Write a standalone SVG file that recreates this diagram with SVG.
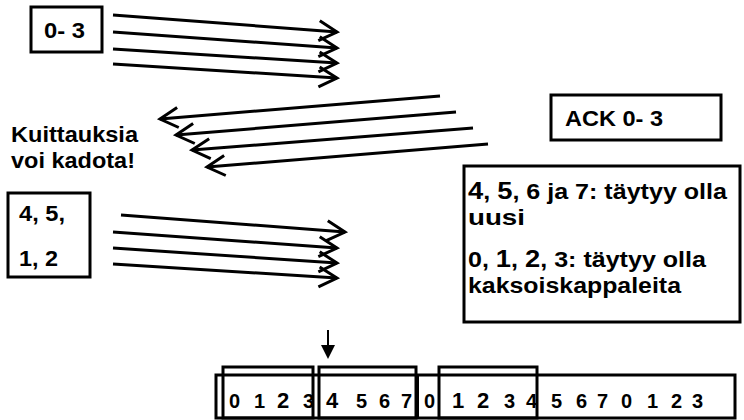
<svg xmlns="http://www.w3.org/2000/svg" width="744" height="420" viewBox="0 0 744 420">
<style>
text{font-family:"Liberation Sans",Arial,sans-serif;font-weight:bold;fill:#000}
.box{fill:#fff;stroke:#000;stroke-width:3}
.win{fill:none;stroke:#000;stroke-width:3}
.arr{stroke:#000;stroke-width:3;fill:none;marker-end:url(#chev)}
.dg{font-size:20px}
.big{font-size:22px}
</style>
<defs>
<marker id="chev" markerUnits="userSpaceOnUse" viewBox="-22 -12 26 24" refX="0" refY="0" markerWidth="26" markerHeight="24" orient="auto">
<path d="M-18,-10 L0,0 L-18,10" fill="none" stroke="#000" stroke-width="3"/>
</marker>
</defs>
<rect width="744" height="420" fill="#fff"/>
<g id="connectors">
<line class="arr" x1="113" y1="15" x2="337" y2="32"/>
<line class="arr" x1="113" y1="32" x2="337" y2="48"/>
<line class="arr" x1="113" y1="49" x2="337" y2="63"/>
<line class="arr" x1="113" y1="64" x2="337" y2="78"/>
<line class="arr" x1="440" y1="96" x2="160" y2="119"/>
<line class="arr" x1="456" y1="112" x2="176" y2="135"/>
<line class="arr" x1="473" y1="128" x2="192" y2="150"/>
<line class="arr" x1="488" y1="144" x2="207" y2="167"/>
<line class="arr" x1="121" y1="215" x2="345" y2="232"/>
<line class="arr" x1="113" y1="232" x2="337" y2="248"/>
<line class="arr" x1="113" y1="248" x2="337" y2="263"/>
<line class="arr" x1="113" y1="264" x2="337" y2="278"/>
<line x1="328" y1="330" x2="328" y2="346" stroke="#000" stroke-width="2"/>
<polygon points="321,345 335,345 328,359" fill="#000"/>
</g>
<g id="box-0-3">
<rect class="box" x="31" y="7" width="71" height="45"/>
<text x="44" y="38" font-size="22" textLength="41" lengthAdjust="spacingAndGlyphs">0- 3</text>
</g>
<g id="note-lost">
<text x="11" y="142" font-size="22" textLength="127" lengthAdjust="spacingAndGlyphs">Kuittauksia</text>
<text x="11" y="168" font-size="22" textLength="124" lengthAdjust="spacingAndGlyphs">voi kadota!</text>
</g>
<g id="box-ack">
<rect class="box" x="551" y="95" width="170" height="45"/>
<text x="565" y="126" font-size="22" textLength="98" lengthAdjust="spacingAndGlyphs">ACK 0- 3</text>
</g>
<g id="box-rule">
<rect class="box" x="464" y="166" width="276" height="156"/>
<text x="468" y="199" font-size="22" textLength="259" lengthAdjust="spacingAndGlyphs"><tspan font-size="24">4</tspan>, <tspan font-size="24">5</tspan>, 6 ja 7: täytyy olla</text>
<text x="468" y="225" font-size="22" textLength="57" lengthAdjust="spacingAndGlyphs">uusi</text>
<text x="468" y="267" font-size="22" textLength="238" lengthAdjust="spacingAndGlyphs">0, <tspan font-size="24">1</tspan>, <tspan font-size="24">2</tspan>, 3: täytyy olla</text>
<text x="468" y="293" font-size="22" textLength="213" lengthAdjust="spacingAndGlyphs">kaksoiskappaleita</text>
</g>
<g id="box-45-12">
<rect class="box" x="8" y="193" width="82" height="84"/>
<text x="19" y="221" font-size="22" textLength="46" lengthAdjust="spacingAndGlyphs">4, 5,</text>
<text x="19" y="266" font-size="22" textLength="39" lengthAdjust="spacingAndGlyphs">1, 2</text>
</g>
<g id="sequence">
<rect class="win" x="216" y="375" width="519" height="43"/>
<line x1="418" y1="375" x2="418" y2="418" stroke="#000" stroke-width="2"/>
<g class="dg">
<text x="229" y="408">0</text>
<text x="254" y="408">1</text>
<text x="277" y="408" class="big">2</text>
<text x="303" y="408">3</text>
<text x="326" y="408" class="big">4</text>
<text x="356" y="408">5</text>
<text x="379" y="408">6</text>
<text x="401" y="408">7</text>
<text x="424" y="408">0</text>
<text x="452" y="408" class="big">1</text>
<text x="477" y="408" class="big">2</text>
<text x="504" y="408">3</text>
<text x="526" y="408">4</text>
<text x="551" y="408">5</text>
<text x="576" y="408">6</text>
<text x="597" y="408">7</text>
<text x="621" y="408">0</text>
<text x="647" y="408">1</text>
<text x="671" y="408">2</text>
<text x="692" y="408">3</text>
</g>
</g>
<g id="window-1"><rect class="win" x="223" y="367" width="90" height="51"/></g>
<g id="window-2"><rect class="win" x="319" y="367" width="97" height="51"/></g>
<g id="window-3"><rect class="win" x="439" y="367" width="98" height="51"/></g>
</svg>
